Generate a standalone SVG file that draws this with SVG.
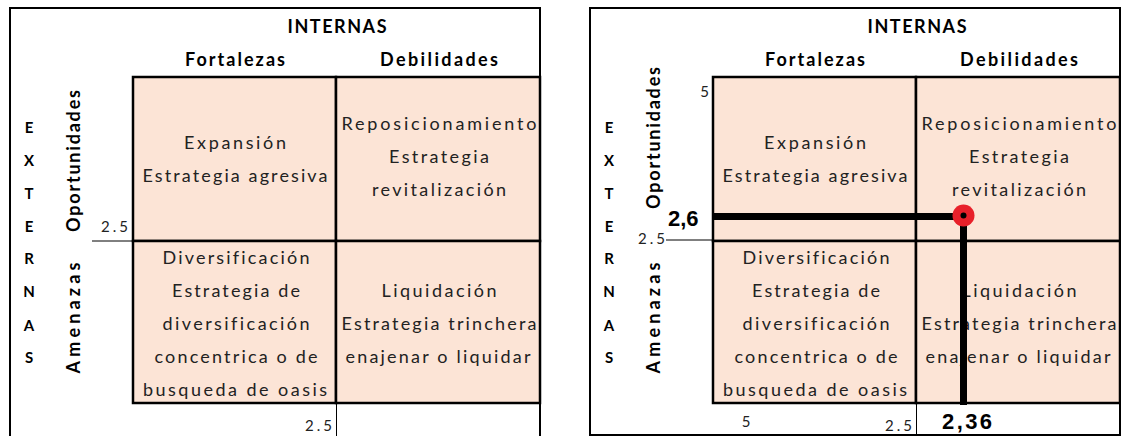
<svg xmlns="http://www.w3.org/2000/svg" width="1121" height="436" viewBox="0 0 1121 436">
<style>
.frame{fill:none;stroke:#000;stroke-width:2}
.cell{fill:#FCE4D6;stroke:#000;stroke-width:2.5}
text{font-variant-ligatures:none}
.t{font-family:Lato,"Open Sans","Liberation Sans",sans-serif;font-size:18px;fill:#222;text-anchor:middle}
.h{font-family:Lato,"Open Sans","Liberation Sans",sans-serif;font-size:18px;font-weight:bold;fill:#000;text-anchor:middle}
.v{font-family:Lato,"Open Sans","Liberation Sans",sans-serif;font-size:15px;font-weight:bold;fill:#000;text-anchor:middle}
.n{font-family:Lato,"Open Sans","Liberation Sans",sans-serif;font-size:15px;fill:#222}
.b{font-family:"Liberation Sans",Arial,sans-serif;font-size:22px;font-weight:bold;fill:#000}
.tick{stroke:#000;stroke-width:1}
.thick{stroke:#000;stroke-width:7}
</style>
<g id="panel-left">
  <path class="frame" d="M10,437 V8 H540 V437"/>
  <g id="left-headers">
    <text class="h" x="337" y="33" textLength="99" lengthAdjust="spacing">INTERNAS</text>
    <text class="h" x="235" y="66" textLength="100" lengthAdjust="spacing">Fortalezas</text>
    <text class="h" x="439" y="66" textLength="118" lengthAdjust="spacing">Debilidades</text>
    <text class="h" transform="translate(80,161) rotate(-90)" x="0" y="0" textLength="142" lengthAdjust="spacing">Oportunidades</text>
    <text class="h" transform="translate(80,318) rotate(-90)" x="0" y="0" textLength="111" lengthAdjust="spacing">Amenazas</text>
    <text class="v" x="29" y="133">E</text><text class="v" x="29" y="166">X</text><text class="v" x="29" y="199">T</text><text class="v" x="29" y="232">E</text><text class="v" x="29" y="264">R</text><text class="v" x="29" y="297">N</text><text class="v" x="29" y="331">A</text><text class="v" x="29" y="363">S</text>
  </g>
  <g id="left-q1"><rect class="cell" x="133" y="77" width="203" height="164"/>
    <text class="t" x="235" y="149" textLength="102" lengthAdjust="spacing">Expansión</text>
    <text class="t" x="235" y="182" textLength="185" lengthAdjust="spacing">Estrategia agresiva</text></g>
  <g id="left-q2"><rect class="cell" x="336" y="77" width="204" height="164"/>
    <text class="t" x="439" y="130" textLength="195" lengthAdjust="spacing">Reposicionamiento</text>
    <text class="t" x="439" y="163" textLength="100" lengthAdjust="spacing">Estrategia</text>
    <text class="t" x="439" y="196" textLength="134" lengthAdjust="spacing">revitalización</text></g>
  <g id="left-q3"><rect class="cell" x="133" y="241" width="203" height="162"/>
    <text class="t" x="236" y="264" textLength="147" lengthAdjust="spacing">Diversificación</text>
    <text class="t" x="236" y="297" textLength="128" lengthAdjust="spacing">Estrategia de</text>
    <text class="t" x="236" y="330" textLength="147" lengthAdjust="spacing">diversificación</text>
    <text class="t" x="236" y="363" textLength="163" lengthAdjust="spacing">concentrica o de</text>
    <text class="t" x="235" y="396" textLength="184" lengthAdjust="spacing">busqueda de oasis</text></g>
  <g id="left-q4"><rect class="cell" x="336" y="241" width="204" height="162"/>
    <text class="t" x="439" y="297" textLength="115" lengthAdjust="spacing">Liquidación</text>
    <text class="t" x="439" y="330" textLength="195" lengthAdjust="spacing">Estrategia trinchera</text>
    <text class="t" x="438" y="363" textLength="185" lengthAdjust="spacing">enajenar o liquidar</text></g>
  <g id="left-axis">
    <text class="n" x="128" y="232" text-anchor="end" textLength="27" lengthAdjust="spacing">2.5</text>
    <line class="tick" x1="92" y1="241" x2="133" y2="241"/>
    <text class="n" x="332" y="431" text-anchor="end" textLength="27" lengthAdjust="spacing">2.5</text>
    <line class="tick" x1="336.5" y1="403" x2="336.5" y2="436"/>
  </g>
</g>
<g id="panel-right">
  <rect class="frame" x="590" y="8" width="530" height="427"/>
  <g id="right-headers">
    <text class="h" x="917" y="33" textLength="99" lengthAdjust="spacing">INTERNAS</text>
    <text class="h" x="815" y="66" textLength="100" lengthAdjust="spacing">Fortalezas</text>
    <text class="h" x="1019" y="66" textLength="118" lengthAdjust="spacing">Debilidades</text>
    <text class="h" transform="translate(660,138) rotate(-90)" x="0" y="0" textLength="142" lengthAdjust="spacing">Oportunidades</text>
    <text class="h" transform="translate(660,318) rotate(-90)" x="0" y="0" textLength="111" lengthAdjust="spacing">Amenazas</text>
    <text class="v" x="609" y="133">E</text><text class="v" x="609" y="166">X</text><text class="v" x="609" y="199">T</text><text class="v" x="609" y="232">E</text><text class="v" x="609" y="264">R</text><text class="v" x="609" y="297">N</text><text class="v" x="609" y="331">A</text><text class="v" x="609" y="363">S</text>
  </g>
  <g id="right-q1"><rect class="cell" x="713" y="77" width="203" height="164"/>
    <text class="t" x="815" y="149" textLength="102" lengthAdjust="spacing">Expansión</text>
    <text class="t" x="815" y="182" textLength="185" lengthAdjust="spacing">Estrategia agresiva</text></g>
  <g id="right-q2"><rect class="cell" x="916" y="77" width="204" height="164"/>
    <text class="t" x="1019" y="130" textLength="195" lengthAdjust="spacing">Reposicionamiento</text>
    <text class="t" x="1019" y="163" textLength="100" lengthAdjust="spacing">Estrategia</text>
    <text class="t" x="1019" y="196" textLength="134" lengthAdjust="spacing">revitalización</text></g>
  <g id="right-q3"><rect class="cell" x="713" y="241" width="203" height="162"/>
    <text class="t" x="816" y="264" textLength="147" lengthAdjust="spacing">Diversificación</text>
    <text class="t" x="816" y="297" textLength="128" lengthAdjust="spacing">Estrategia de</text>
    <text class="t" x="816" y="330" textLength="147" lengthAdjust="spacing">diversificación</text>
    <text class="t" x="816" y="363" textLength="163" lengthAdjust="spacing">concentrica o de</text>
    <text class="t" x="815" y="396" textLength="184" lengthAdjust="spacing">busqueda de oasis</text></g>
  <g id="right-q4"><rect class="cell" x="916" y="241" width="204" height="162"/>
    <text class="t" x="1019" y="297" textLength="115" lengthAdjust="spacing">Liquidación</text>
    <text class="t" x="1019" y="330" textLength="195" lengthAdjust="spacing">Estrategia trinchera</text>
    <text class="t" x="1018" y="363" textLength="185" lengthAdjust="spacing">enajenar o liquidar</text></g>
  <g id="right-axis">
    <text class="n" x="709" y="97" text-anchor="end">5</text>
    <text class="n" x="665" y="244" text-anchor="end" textLength="27" lengthAdjust="spacing">2.5</text>
    <line class="tick" x1="666" y1="240" x2="713" y2="240"/>
    <text class="n" x="746" y="427" text-anchor="middle">5</text>
    <text class="n" x="912" y="431" text-anchor="end" textLength="27" lengthAdjust="spacing">2.5</text>
    <line class="tick" x1="916.5" y1="403" x2="916.5" y2="435"/>
    <text class="b" x="668" y="226">2,6</text>
    <text class="b" x="942" y="429" textLength="50" lengthAdjust="spacing">2,36</text>
  </g>
  <g id="connectors">
    <line class="thick" x1="713" y1="216.5" x2="963" y2="216.5"/>
    <line class="thick" x1="963.5" y1="216" x2="963.5" y2="405"/>
  </g>
  <g id="point">
    <circle cx="963.5" cy="215.5" r="11" fill="#E8202A"/>
    <circle cx="963.5" cy="215.5" r="3" fill="#000"/>
  </g>
</g>
</svg>
